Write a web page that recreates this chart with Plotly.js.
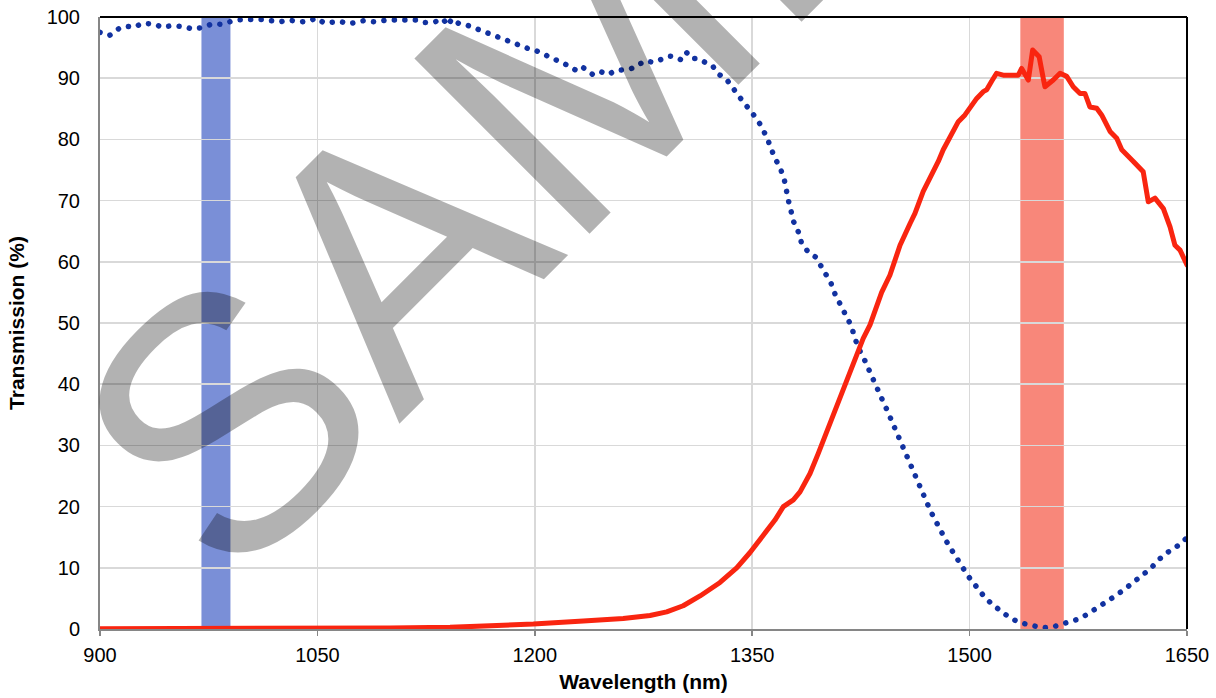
<!DOCTYPE html>
<html>
<head>
<meta charset="utf-8">
<script src="https://cdn.plot.ly/plotly-3.0.1.min.js"></script>
<style>
  html, body { margin: 0; padding: 0; background: #fff; }
  #chart { width: 1216px; height: 698px; }
  .js-line { stroke-linecap: round !important; stroke-linejoin: round !important; }
</style>
</head>
<body>
<div id="chart"></div>
<script>
// ---- Data ----
const blueWavelength = [900, 906.6, 913, 918, 923, 929.7, 938, 943, 949.5, 959, 964, 971, 977.6, 984, 992, 999,
  1012, 1024, 1030, 1039, 1045, 1049, 1055, 1065, 1072, 1082, 1090, 1098, 1108, 1114, 1119.5, 1124, 1131,
  1136.8, 1139.6, 1143, 1147.7, 1154, 1160.6, 1166, 1172.5, 1177, 1183.6, 1189, 1194.8, 1200, 1206, 1212,
  1218, 1223.6, 1229, 1233, 1237, 1240, 1245, 1251, 1255, 1261, 1266, 1270, 1276, 1282, 1288, 1293, 1296.7,
  1301, 1304.7, 1308.4, 1312.3, 1317.4, 1322.7, 1326.5, 1332, 1341, 1349, 1354, 1360, 1365.5, 1369, 1372,
  1375, 1378.7, 1382, 1384, 1388.6, 1393.6, 1397, 1401, 1404.4, 1407.2, 1410.6, 1414.3, 1418, 1420.5, 1422.8,
  1426.7, 1429.7, 1432.9, 1436.6, 1439.5, 1442.8, 1445.8, 1449.2, 1452.2, 1455.2, 1458.2, 1461.4, 1464.8,
  1467.8, 1471, 1474.3, 1477.7, 1481.6, 1485.5, 1489.4, 1493.5, 1498, 1499.8, 1504.4, 1509.7, 1515.2, 1521.2,
  1527.9, 1535.2, 1542.6, 1550.4, 1558.2, 1565.8, 1573.4, 1580.5, 1587.4, 1594.1, 1600.5, 1607, 1613, 1619,
  1625, 1630.4, 1636.4, 1642.6, 1647.5, 1650];
const blueTransmission = [97.5, 97.0, 98.1, 98.5, 98.3, 99.0, 98.8, 98.3, 98.6, 98.4, 98.0, 98.3, 98.9, 98.8, 99.4, 99.6,
  99.6, 99.2, 99.5, 99.2, 99.4, 99.8, 99.0, 99.3, 98.9, 99.4, 99.2, 99.5, 99.5, 99.6, 99.5, 99.1, 99.2,
  99.7, 98.6, 99.7, 98.9, 98.6, 98.0, 97.5, 96.8, 96.6, 95.9, 95.4, 94.9, 94.6, 94.0, 93.2,
  92.6, 92.0, 91.2, 91.8, 91.1, 90.6, 91.1, 90.6, 91.2, 91.3, 91.5, 92.0, 92.8, 92.6, 93.1, 93.6, 93.5,
  93.0, 94.2, 93.2, 93.2, 92.6, 92.0, 90.7, 89.9, 87.0, 84.5, 83.1, 80.4, 77.0, 75.5, 73.6,
  70.0, 66.5, 64.8, 63.1, 61.6, 60.8, 59.5, 57.9, 56.5, 54.7, 53.1, 51.3, 49.7, 47.9, 46.1,
  44.4, 42.7, 41.0, 39.3, 37.6, 35.9, 34.2, 32.5, 30.7, 29.0, 27.2, 25.5, 23.9,
  22.1, 20.4, 18.7, 17.0, 15.4, 13.7, 12.1, 10.5, 9.0, 8.4, 6.9, 5.4, 4.1, 2.9,
  1.8, 1.0, 0.5, 0.2, 0.4, 0.9, 1.5, 2.3, 3.3, 4.3, 5.4, 6.5, 7.7, 8.9,
  9.9, 11.3, 12.5, 13.4, 14.5, 14.9];

const redWavelength = [900, 950, 1000, 1050, 1100, 1141.5, 1170, 1199, 1233.5, 1261, 1279.5, 1291, 1302.4, 1314,
  1327.8, 1339.3, 1348.5, 1357.7, 1365.7, 1371.5, 1378.4, 1383, 1389.9, 1395.6, 1401.4, 1407.1, 1412.9, 1418.6,
  1423.2, 1426.6, 1431.3, 1435.8, 1439.3, 1445, 1452, 1459, 1462.3, 1468, 1472.7, 1478.4, 1481.8, 1486.5, 1492.2,
  1496.8, 1499, 1504.9, 1509.4, 1511.8, 1515.2, 1518.6, 1523.2, 1530.1, 1533.6, 1535.9, 1540.5, 1543.5, 1548,
  1550.8, 1552, 1557.7, 1562.4, 1567, 1571.5, 1576.2, 1579.6, 1583, 1587.7, 1591.1, 1596.9, 1601.5, 1605, 1613,
  1619.8, 1623.3, 1627.9, 1633.7, 1638.3, 1641.7, 1645.2, 1650];
const redTransmission = [0.05, 0.05, 0.08, 0.1, 0.15, 0.27, 0.5, 0.8, 1.3, 1.7, 2.2, 2.8, 3.8, 5.4,
  7.6, 10.0, 12.5, 15.4, 17.8, 20.0, 21.1, 22.4, 25.4, 28.7, 32.2, 35.8, 39.6, 42.6,
  45.9, 47.5, 49.7, 52.9, 55.0, 57.8, 62.7, 66.3, 67.9, 71.5, 73.6, 76.4, 78.3, 80.2, 82.9,
  84.0, 84.8, 86.7, 87.8, 88.1, 89.5, 90.8, 90.5, 90.4, 90.5, 91.6, 89.7, 94.6, 93.5,
  90.0, 88.6, 89.7, 90.8, 90.3, 88.6, 87.5, 87.5, 85.3, 85.1, 84.0, 81.3, 80.2, 78.3, 76.4,
  74.7, 69.8, 70.4, 68.7, 65.7, 62.7, 61.9, 59.5];

const blueBand = [970, 990];     // nm
const redBand = [1535, 1565];    // nm
const xTicks = [900, 1050, 1200, 1350, 1500, 1650];
const yTicks = [0, 10, 20, 30, 40, 50, 60, 70, 80, 90, 100];
const watermarkText = 'SAMPLE';
const xTitle = 'Wavelength (nm)';
const yTitle = 'Transmission (%)';

// ---- Chart ----
const FONT = 'Liberation Sans, Arial, sans-serif';

const traces = [
  {
    x: blueWavelength, y: blueTransmission, type: 'scatter', mode: 'lines',
    line: { color: '#1232a0', width: 5.5, dash: '0.1px,10.4px' },
    hoverinfo: 'skip', showlegend: false
  },
  {
    x: redWavelength, y: redTransmission, type: 'scatter', mode: 'lines',
    line: { color: '#f92510', width: 5 },
    hoverinfo: 'skip', showlegend: false
  }
];

const layout = {
  width: 1216, height: 698,
  margin: { l: 100, r: 29, t: 17, b: 69 },
  paper_bgcolor: '#ffffff', plot_bgcolor: '#ffffff',
  font: { family: FONT, size: 20, color: '#000000' },
  showlegend: false,
  xaxis: {
    range: [xTicks[0], xTicks[xTicks.length - 1]],
    tickmode: 'array', tickvals: xTicks, ticktext: xTicks.map(String),
    showgrid: true, gridcolor: '#d9d9d9', gridwidth: 1.5,
    showline: true, linecolor: '#868686', linewidth: 2,
    ticks: 'outside', ticklen: 5, tickcolor: '#868686', tickwidth: 1.5,
    ticklabelstandoff: 2,
    tickfont: { family: FONT, size: 20, color: '#000' },
    zeroline: false, fixedrange: true,
    title: { text: '<b>' + xTitle + '</b>', font: { family: FONT, size: 21, color: '#000' }, standoff: 9 }
  },
  yaxis: {
    range: [yTicks[0], yTicks[yTicks.length - 1]],
    tickmode: 'array', tickvals: yTicks, ticktext: yTicks.map(String),
    showgrid: true, gridcolor: '#d9d9d9', gridwidth: 1.5,
    showline: true, linecolor: '#868686', linewidth: 2,
    ticks: '', ticklabelstandoff: 14,
    tickfont: { family: FONT, size: 20, color: '#000' },
    zeroline: false, fixedrange: true,
    title: { text: '<b>' + yTitle + '</b>', font: { family: FONT, size: 21, color: '#000' }, standoff: 16 }
  },
  shapes: [
    { type: 'rect', xref: 'x', yref: 'paper', x0: blueBand[0], x1: blueBand[1], y0: 0, y1: 1,
      fillcolor: 'rgba(70,100,200,0.72)', line: { width: 0 }, layer: 'between' },
    { type: 'rect', xref: 'x', yref: 'paper', x0: redBand[0], x1: redBand[1], y0: 0, y1: 1,
      fillcolor: 'rgba(245,70,50,0.65)', line: { width: 0 }, layer: 'between' },
    // top and right black frame
    { type: 'line', xref: 'paper', yref: 'paper', x0: 0, x1: 1, y0: 1, y1: 1, line: { color: '#000', width: 2 } },
    { type: 'line', xref: 'paper', yref: 'paper', x0: 1, x1: 1, y0: 0, y1: 1, line: { color: '#000', width: 2 } }
  ],
  annotations: [
    { text: watermarkText, xref: 'paper', yref: 'paper', x: 0.513, y: 1.045,
      xanchor: 'center', yanchor: 'middle', showarrow: false, textangle: -45,
      font: { family: FONT, size: 360, color: 'rgba(0,0,0,0.3)' } }
  ]
};

Plotly.newPlot('chart', traces, layout, { staticPlot: true, displayModeBar: false });
</script>
</body>
</html>
